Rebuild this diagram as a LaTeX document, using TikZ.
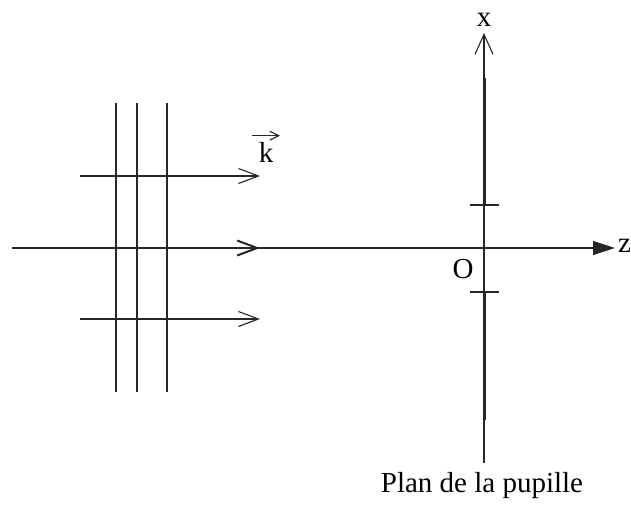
\documentclass[tikz,border=0pt]{standalone}
\usepackage{fontspec}
\setmainfont{Liberation Serif}
\usetikzlibrary{arrows.meta,positioning}
\begin{document}
\begin{tikzpicture}[
    x=1pt, y=-1pt,
    font=\fontsize{29}{34}\selectfont,
    thinline/.style={line width=1.1pt, black!85},
    screen/.style={line width=3pt, black!85},
    ray/.style={thinline, -{Straight Barb[length=20pt, width=15pt]}},
    axis/.style={thinline, -{Triangle[length=22pt, width=14pt]}},
    upaxis/.style={thinline, -{Straight Barb[length=20pt, width=18pt]}},
    lbl/.style={inner sep=0pt}
  ]
  \useasboundingbox (0,0) rectangle (631,506);
  % axes
  \coordinate (O) at (484,248);
  \coordinate (zstart) at (12,248);
  \coordinate (zend) at (615,248);
  \coordinate (xbot) at (484,463);
  \coordinate (xtop) at (484,33);
  \draw[axis] (zstart) -- (zend);
  \draw[upaxis] (xbot) -- (xtop);
  % pupil screen
  \coordinate (scrtop) at (484,78);
  \coordinate (slittop) at (484,205);
  \coordinate (slitbot) at (484,292);
  \coordinate (scrbot) at (484,420);
  \draw[screen] (scrtop) -- (slittop);
  \draw[screen] (slitbot) -- (scrbot);
  \draw[thinline, line width=1.6pt] ([xshift=-14pt]slittop) -- ([xshift=15pt]slittop);
  \draw[thinline, line width=1.6pt] ([xshift=-14pt]slitbot) -- ([xshift=15pt]slitbot);
  % wave fronts
  \foreach \name/\xpos in {wa/116, wb/137, wc/167} {
    \coordinate (\name top) at (\xpos,103);
    \coordinate (\name bot) at (\xpos,392);
    \draw[thinline] (\name top) -- (\name bot);
  }
  % rays
  \foreach \name/\ypos in {ra/176, rb/248, rc/319} {
    \coordinate (\name start) at (80,\ypos);
    \coordinate (\name end) at (260,\ypos);
  }
  \draw[ray] (rastart) -- (raend);
  \draw[ray, line width=2pt] (rbstart) -- (rbend);
  \draw[ray] (rcstart) -- (rcend);
  % labels
  \node[lbl, anchor=base] (xlbl) at (484,26) {x};
  \node[lbl, anchor=west] (zlbl) at (618,246) {z};
  \node[lbl, anchor=base] (olbl) at (463,278) {O};
  \node[lbl, anchor=base] (klbl) at (266,162) {k};
  \draw[thinline, -{Straight Barb[length=9pt, width=9pt]}] ([xshift=-14pt, yshift=6pt]klbl.north) -- ([xshift=14pt, yshift=6pt]klbl.north);
  \node[lbl, anchor=base] (plan) at (482,492) {Plan de la pupille};
\end{tikzpicture}
\end{document}
